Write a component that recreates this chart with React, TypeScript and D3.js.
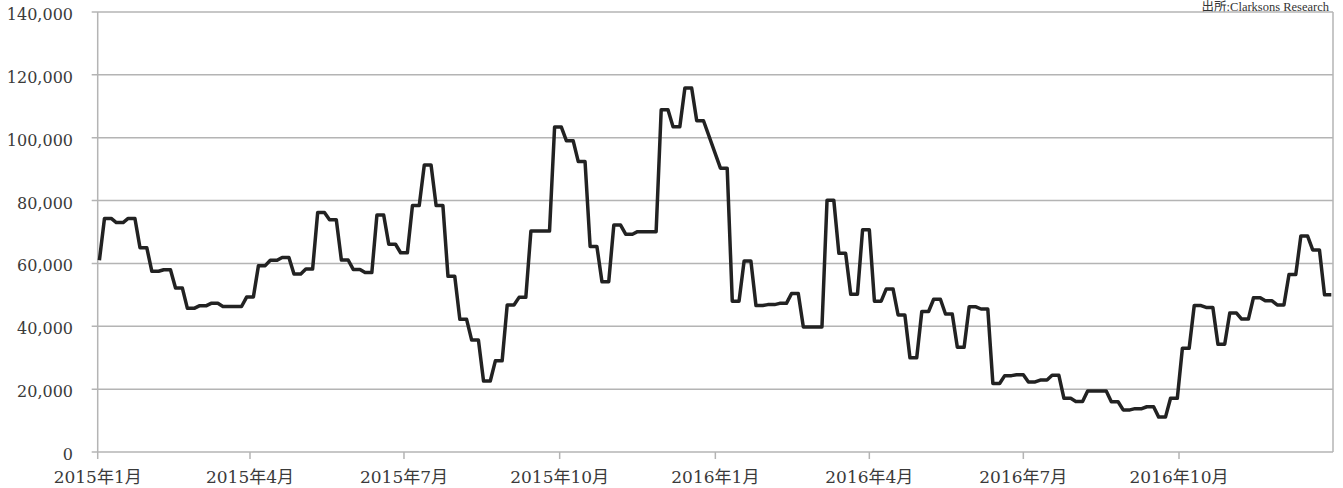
import * as d3 from "d3"

// weekly values (one value held Mon–Fri), week 0 = week ending Fri 2015-01-02
const values2015 = [
  61000, 74300, 73000, 74300, 65000, 57500, 58000, 52200, 45700, 46500,
  47300, 46300, 46300, 49300, 59300, 61000, 61900, 56600, 58200, 76200,
  73900, 61100, 58100, 57100, 75400, 66100, 63400, 78400, 91300, 78400,
  55900, 42200, 35600, 22600, 29000, 46800, 49200, 70300, 70300, 103400,
  99000, 92400, 65400, 54200, 72200, 69300, 70100, 70100, 108900, 103500,
  115800, 105400, null,
]
// week starting Mon 2016-01-04 onwards
const values2016 = [
  90300, 48000, 60800, 46600, 46900, 47300, 50400, 39800, 39800, 80100,
  63200, 50200, 70700, 48000, 51900, 43600, 30000, 44700, 48600, 43900,
  33300, 46200, 45500, 21800, 24300, 24600, 22300, 22900, 24400, 17100,
  16100, 19400, 19400, 16000, 13400, 13800, 14400, 11100, 17100, 33000,
  46600, 46000, 34300, 44200, 42300, 49100, 48100, 46800, 56500, 68700,
  64300, 50000,
]
const yTicks = [0, 20000, 40000, 60000, 80000, 100000, 120000, 140000]
const sourceLabel = "出所:Clarksons Research"

const W = 1343
const H = 488
const firstFriday = new Date(Date.UTC(2015, 0, 2))

type Pt = { date: Date; value: number }

function buildPoints(): Pt[] {
  const weekly = [...values2015, ...values2016]
  const pts: Pt[] = []
  weekly.forEach((v, k) => {
    if (v == null) return
    const fri = d3.utcDay.offset(firstFriday, 7 * k)
    if (k > 0) pts.push({ date: d3.utcDay.offset(fri, -4), value: v })
    pts.push({ date: fri, value: v })
  })
  return pts
}

export default function App() {
  const data = buildPoints()
  const x = d3
    .scaleUtc()
    .domain([new Date(Date.UTC(2015, 0, 1)), new Date(Date.UTC(2016, 11, 31))])
    .range([97.7, 1333])
  const y = d3.scaleLinear().domain([0, 140000]).range([452, 12])

  const line = d3
    .line<Pt>()
    .x((d) => x(d.date))
    .y((d) => y(d.value))

  const xTicks = d3.utcMonth.every(3)!.range(new Date(Date.UTC(2015, 0, 1)), new Date(Date.UTC(2016, 11, 2)))
  const fmtY = d3.format(",")
  const [x0, x1] = x.range()

  return (
    <svg
      width={W}
      height={H}
      style={{ position: "absolute", left: 0, top: 0, background: "#fff" }}
    >
      <text
        x={1329}
        y={11}
        textAnchor="end"
        fontFamily="Liberation Serif, Noto Sans CJK JP"
        fontSize={12.5}
        fill="#333"
      >
        {sourceLabel}
      </text>

      {yTicks.map((t) => (
        <g key={t}>
          <line x1={x0 - 6} x2={x1} y1={y(t)} y2={y(t)} stroke="#b4b4b4" strokeWidth={1.5} />
          <text
            x={73}
            y={y(t) + 8}
            textAnchor="end"
            fontFamily="DejaVu Serif, Noto Sans CJK JP"
            fontSize={16}
            fill="#3a3a3a"
          >
            {fmtY(t)}
          </text>
        </g>
      ))}

      <line x1={x0} x2={x0} y1={y(140000)} y2={y(0)} stroke="#b4b4b4" strokeWidth={1.5} />
      <line x1={x1} x2={x1} y1={y(140000)} y2={y(0)} stroke="#b4b4b4" strokeWidth={1.5} />

      {xTicks.map((d) => (
        <g key={d.toISOString()}>
          <line x1={x(d)} x2={x(d)} y1={y(0)} y2={y(0) + 7} stroke="#b4b4b4" strokeWidth={1.5} />
          <text
            x={x(d)}
            y={483}
            textAnchor="middle"
            fontFamily="DejaVu Serif, Noto Sans CJK JP"
            fontSize={17}
            fill="#3a3a3a"
          >
            {`${d.getUTCFullYear()}年${d.getUTCMonth() + 1}月`}
          </text>
        </g>
      ))}

      <path
        d={line(data) ?? ""}
        fill="none"
        stroke="#222"
        strokeWidth={3.5}
        strokeLinejoin="round"
      />
    </svg>
  )
}
